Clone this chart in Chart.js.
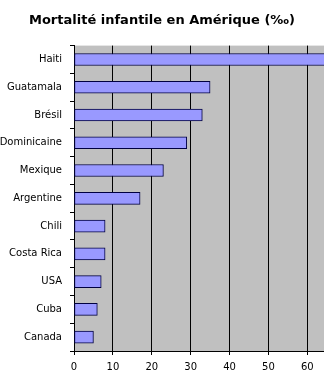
<!DOCTYPE html>
<html>
<head>
<meta charset="utf-8">
<script src="https://cdn.jsdelivr.net/npm/chart.js@4"></script>
<style>
html, body { margin: 0; padding: 0; background: #fff; overflow: hidden; }
#wrap { width: 324px; height: 384px; }
</style>
</head>
<body>
<div id="wrap"><canvas id="mortalite" width="324" height="384"></canvas></div>
<script>
// donnees
const pays = ['Haiti', 'Guatamala', 'Brésil', 'Rép. Dominicaine', 'Mexique', 'Argentine', 'Chili', 'Costa Rica', 'USA', 'Cuba', 'Canada'];
const taux = [80, 35, 33, 29, 23, 17, 8, 8, 7, 6, 5];
const graduations = [0, 10, 20, 30, 40, 50, 60];

// fond gris de la zone du graphique
const fondGris = {
    id: 'fondGris',
    beforeDraw: function (chart) {
        const a = chart.chartArea;
        const ctx = chart.ctx;
        ctx.save();
        ctx.fillStyle = '#c0c0c0';
        ctx.fillRect(a.left, a.top, a.right - a.left, a.bottom - a.top);
        ctx.restore();
    }
};

var ctx = document.getElementById("mortalite");
var myBarChart = new Chart(ctx, {
    type: 'bar',
    data: {
        labels: pays,
        datasets: [{
            data: taux,
            backgroundColor: '#9999ff',
            borderColor: '#000040',
            borderWidth: 1,
            borderSkipped: false,
            barThickness: 12
        }],
    },
    options: {
        indexAxis: 'y',
        responsive: false,
        animation: false,
        layout: { padding: { left: 0, right: 0, top: 0, bottom: 5 } },
        plugins: {
            legend: { display: false },
            tooltip: { enabled: false },
            title: {
                display: true,
                text: 'Mortalité infantile en Amérique (‰)',
                color: '#000',
                font: { family: 'DejaVu Sans', size: 13, weight: 'bold' },
                padding: { top: 13, bottom: 17 }
            }
        },
        scales: {
            x: {
                min: 0,
                max: 64.3,
                ticks: {
                    stepSize: 10,
                    color: '#000',
                    padding: 6,
                    font: { family: 'DejaVu Sans', size: 10 }
                },
                afterBuildTicks: function (scale) {
                    scale.ticks = graduations.map(v => ({ value: v }));
                },
                grid: { color: '#000', lineWidth: 1, tickLength: 4 },
                border: { display: true, color: '#000' }
            },
            y: {
                afterFit: function (scale) { scale.width = 74; },
                ticks: {
                    color: '#000',
                    padding: 8,
                    font: { family: 'DejaVu Sans', size: 10 }
                },
                grid: { offset: true, drawOnChartArea: false, color: '#000', tickLength: 4 },
                border: { display: true, color: '#000' }
            }
        }
    },
    plugins: [fondGris]
});
</script>
</body>
</html>
